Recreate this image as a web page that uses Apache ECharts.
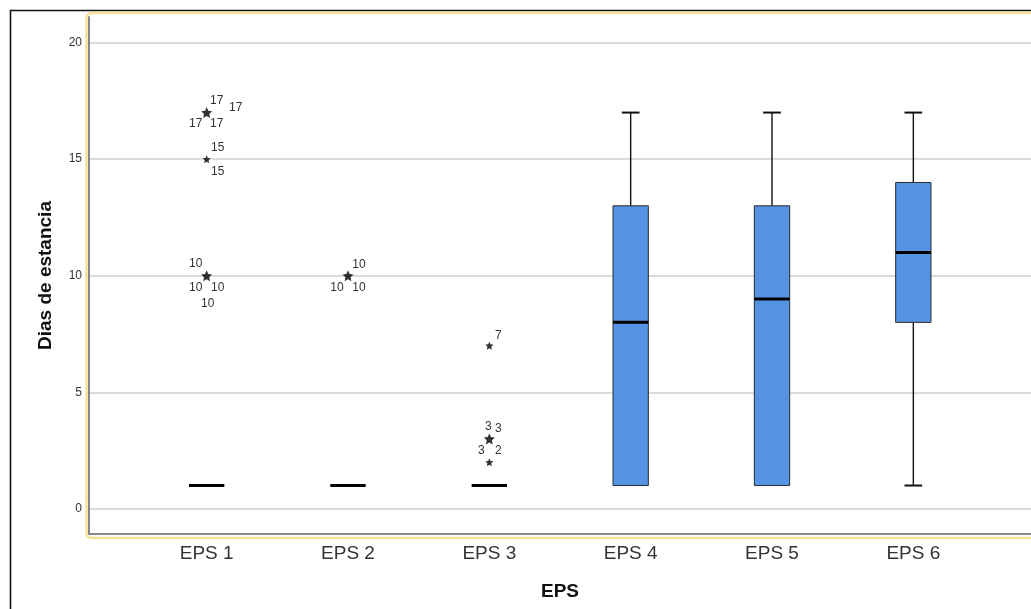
<!DOCTYPE html>
<html>
<head>
<meta charset="utf-8">
<title>Dias de estancia por EPS</title>
<script src="https://cdn.jsdelivr.net/npm/echarts@6/dist/echarts.min.js"></script>
<style>
  html, body { margin: 0; padding: 0; background: #ffffff; }
  #chart { width: 1031px; height: 609px; }
</style>
</head>
<body>
<div id="chart"></div>
<script>
// Box summaries per EPS group
const categories = ['EPS 1', 'EPS 2', 'EPS 3', 'EPS 4', 'EPS 5', 'EPS 6'];
const whiskerLow  = [1, 1, 1, 1, 1, 1];
const quartile1   = [1, 1, 1, 1, 1, 8];
const medianVals  = [1, 1, 1, 8, 9, 11];
const quartile3   = [1, 1, 1, 13, 13, 14];
const whiskerHigh = [1, 1, 1, 17, 17, 17];

// Extreme values: group index, value, number of cases sharing that value
const extremeGroup = [0, 0, 0, 1, 2, 2, 2];
const extremeValue = [17, 15, 10, 10, 7, 3, 2];
const extremeCases = [4, 2, 4, 3, 1, 3, 1];

const yTickValues = [0, 5, 10, 15, 20];

// Where each case label sits around its star (pixel offsets from the star)
const caseLabelOffsets = [
  [[10, -12], [29, -5], [-11, 11], [10, 11]],
  [[11, -11], [11, 13]],
  [[-11, -12], [-11, 12], [11, 12], [1, 28]],
  [[11, -11], [-11, 12], [11, 12]],
  [[9, -10]],
  [[-1, -12], [9, -10], [-8, 12]],
  [[9, -12]]
];

const FONT = '"Liberation Sans", Arial, sans-serif';
const STAR = 'path://M50 0 L64.1 30.6 L97.6 34.5 L72.8 57.4 L79.4 90.5 L50 74 L20.6 90.5 L27.2 57.4 L2.4 34.5 L35.9 30.6 Z';

const boxData = categories.map((c, i) => [i + 1, whiskerLow[i], quartile1[i], medianVals[i], quartile3[i], whiskerHigh[i]]);
// stacked cases (three or more) get the heavier star
const starData = extremeValue.map((v, k) => ({
  value: [extremeGroup[k] + 1, v],
  symbolSize: extremeCases[k] > 2 ? 11 : 8
}));
const labelData = [];
extremeValue.forEach((v, k) => {
  for (let n = 0; n < extremeCases[k]; n++) {
    labelData.push({ value: [extremeGroup[k] + 1, v, String(v)], off: caseLabelOffsets[k][n] });
  }
});

const chart = echarts.init(document.getElementById('chart'), null, { renderer: 'canvas' });

function renderBox(params, api) {
  const x = api.value(0);
  const low = api.coord([x, api.value(1)]);
  const q1 = api.coord([x, api.value(2)]);
  const med = api.coord([x, api.value(3)]);
  const q3 = api.coord([x, api.value(4)]);
  const high = api.coord([x, api.value(5)]);
  const bw = api.size([1, 0])[0] * 0.25;
  const cw = bw / 2;
  const cx = low[0];
  const children = [];
  const lineStyle = { stroke: '#111', lineWidth: 1.4 };
  if (high[1] < q3[1]) {
    children.push({ type: 'line', shape: { x1: cx, y1: q3[1], x2: cx, y2: high[1] }, style: lineStyle });
    children.push({ type: 'line', shape: { x1: cx - cw / 2, y1: high[1], x2: cx + cw / 2, y2: high[1] }, style: { stroke: '#111', lineWidth: 2 } });
  }
  if (low[1] > q1[1]) {
    children.push({ type: 'line', shape: { x1: cx, y1: q1[1], x2: cx, y2: low[1] }, style: lineStyle });
    children.push({ type: 'line', shape: { x1: cx - cw / 2, y1: low[1], x2: cx + cw / 2, y2: low[1] }, style: { stroke: '#111', lineWidth: 2 } });
  }
  if (q1[1] - q3[1] > 0.5) {
    children.push({
      type: 'rect',
      shape: { x: cx - bw / 2, y: q3[1], width: bw, height: q1[1] - q3[1] },
      style: { fill: '#5594E4', stroke: '#2b2b2b', lineWidth: 1 }
    });
  }
  children.push({ type: 'line', shape: { x1: cx - bw / 2, y1: med[1], x2: cx + bw / 2, y2: med[1] }, style: { stroke: '#000', lineWidth: 3 } });
  return { type: 'group', children };
}

function renderCaseLabel(params, api) {
  const p = api.coord([api.value(0), api.value(1)]);
  const off = labelData[params.dataIndex].off;
  return {
    type: 'text',
    x: p[0] + off[0],
    y: p[1] + off[1],
    style: {
      text: labelData[params.dataIndex].value[2],
      fill: '#333',
      font: '12px ' + FONT,
      align: 'center',
      verticalAlign: 'middle'
    }
  };
}

chart.setOption({
  animation: false,
  backgroundColor: '#ffffff',
  graphic: [
    {
      type: 'rect', z: -10, silent: true,
      shape: { x: 10.5, y: 10.5, width: 1200, height: 800 },
      style: { fill: 'none', stroke: '#111', lineWidth: 1.6 }
    },
    {
      type: 'rect', z: -9, silent: true,
      shape: { x: 86.5, y: 13, width: 1100, height: 525, r: 5 },
      style: { fill: 'none', stroke: '#F8E092', lineWidth: 2.4 }
    }
  ],
  grid: { left: 89, top: 17, width: 943, bottom: 75, containLabel: false },
  xAxis: {
    type: 'value',
    min: 0.1675,
    max: 6.8325,
    name: 'EPS',
    nameLocation: 'middle',
    nameGap: 48,
    nameTextStyle: { fontFamily: FONT, fontSize: 19, fontWeight: 'bold', color: '#111' },
    axisLine: { show: true, onZero: false, lineStyle: { color: '#888', width: 2 } },
    axisTick: { show: false },
    splitLine: { show: false },
    axisLabel: {
      customValues: categories.map((c, i) => i + 1),
      formatter: v => categories[Math.round(v) - 1] || '',
      fontFamily: FONT,
      fontSize: 19,
      color: '#333',
      margin: 10
    }
  },
  yAxis: {
    type: 'value',
    min: -1.08,
    max: 21.1,
    name: 'Dias de estancia',
    nameLocation: 'middle',
    nameGap: 34,
    nameRotate: 90,
    nameTextStyle: { fontFamily: FONT, fontSize: 19, fontWeight: 'bold', color: '#111' },
    axisLine: { show: true, onZero: false, lineStyle: { color: '#888', width: 2 } },
    axisTick: { show: false },
    splitLine: { show: false },
    axisLabel: {
      customValues: yTickValues,
      fontFamily: FONT,
      fontSize: 12,
      color: '#333',
      margin: 7
    }
  },
  series: [
    {
      type: 'custom',
      name: 'grid',
      data: [],
      renderItem: () => null,
      markLine: {
        silent: true,
        z: 0,
        symbol: 'none',
        label: { show: false },
        lineStyle: { color: '#cfcfcf', width: 1.5, type: 'solid' },
        data: yTickValues.map(v => ({ yAxis: v }))
      },
      z: 0
    },
    {
      type: 'custom',
      name: 'boxes',
      renderItem: renderBox,
      data: boxData,
      encode: { x: 0, y: [1, 2, 3, 4, 5] },
      z: 3
    },
    {
      type: 'scatter',
      name: 'extremos',
      data: starData,
      symbol: STAR,
      itemStyle: { color: '#000' },
      z: 4
    },
    {
      type: 'custom',
      name: 'casos',
      renderItem: renderCaseLabel,
      data: labelData,
      encode: { x: 0, y: 1 },
      z: 5
    }
  ]
});
</script>
</body>
</html>
